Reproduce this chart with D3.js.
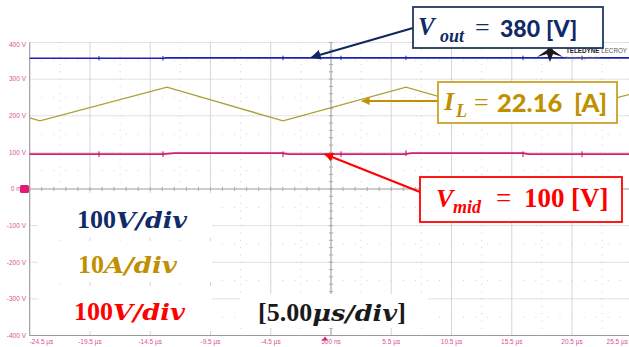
<!DOCTYPE html>
<html>
<head>
<meta charset="utf-8">
<script src="https://cdn.jsdelivr.net/npm/d3@7"></script>
<style>
  body { margin: 0; background: #fff; }
  svg { display: block; }
</style>
</head>
<body>
<div id="chart"></div>
<script>
// tick labels
const timeTicks = [-24.5, -19.5, -14.5, -9.5, -4.5, 0.5, 5.5, 10.5, 15.5, 20.5, 25.5];
const timeLabels = ['-24.5 µs', '-19.5 µs', '-14.5 µs', '-9.5 µs', '-4.5 µs', '500 ns', '5.5 µs', '10.5 µs', '15.5 µs', '20.5 µs', '25.5 µs'];
const voltTicks = [400, 300, 200, 100, 0, -100, -200, -300, -400];
const voltLabels = ['400 V', '300 V', '200 V', '100 V', '0 mV', '-100 V', '-200 V', '-300 V', '-400 V'];

// traces: [time µs, screen value]
const vout = [[-24.5, 357], [-13.4, 357], [-13.2, 358], [25.5, 358]];
const iL = [[-24.5, 194], [-23.65, 186], [-13.11, 278], [-3.48, 186], [6.72, 278], [16.51, 186], [25.5, 260]];
const vmid = [[-24.5, 95], [-13.4, 95], [-12.5, 98], [-3.6, 98], [-3.0, 95], [6.6, 95], [7.2, 98], [16.4, 98], [16.9, 95], [25.5, 95]];
const glitchTimes = [-18.75, -13.44, -3.48, 1.33, 6.72, 16.43, 21.33];

const width = 629, height = 347;

const svg = d3.select('#chart')
  .append('svg')
  .attr('width', width)
  .attr('height', height)
  .style('font-family', 'Liberation Sans, Arial, sans-serif');

const x = d3.scaleLinear().domain([-24.5, 25.5]).range([29.7, 632.3]);
const y = d3.scaleLinear().domain([-400, 400]).range([335.5, 42.5]);

const grid = svg.append('g');

// major vertical grid
grid.selectAll('.vgrid').data(timeTicks).enter().append('line')
  .attr('x1', d => x(d)).attr('x2', d => x(d))
  .attr('y1', y(400)).attr('y2', y(-400))
  .attr('stroke', '#d6d6d6').attr('stroke-width', 1);

// major horizontal grid (dotted)
grid.selectAll('.hgrid').data(voltTicks).enter().append('line')
  .attr('x1', x(-24.5)).attr('x2', x(25.5))
  .attr('y1', d => y(d)).attr('y2', d => y(d))
  .attr('stroke', '#c2c2c2').attr('stroke-width', 1)
  .attr('stroke-dasharray', '1,1');

// half division dots
const halfV = d3.range(-350, 400, 100);
const halfT = d3.range(-22, 25.5, 5);
halfV.forEach(v => {
  grid.selectAll(null).data(d3.range(-24.5, 25.6, 1)).enter().append('rect')
    .attr('x', d => x(d) - 0.5).attr('y', y(v) - 0.5)
    .attr('width', 1).attr('height', 1).attr('fill', '#cfcfcf');
});
halfT.forEach(t => {
  grid.selectAll(null).data(d3.range(-400, 401, 20)).enter().append('rect')
    .attr('x', x(t) - 0.5).attr('y', d => y(d) - 0.5)
    .attr('width', 1).attr('height', 1).attr('fill', '#cfcfcf');
});

// centre cross with minor ticks
grid.append('line')
  .attr('x1', x(-24.5)).attr('x2', x(25.5)).attr('y1', y(0)).attr('y2', y(0))
  .attr('stroke', '#aaaaaa');
grid.append('line')
  .attr('x1', x(0.5)).attr('x2', x(0.5)).attr('y1', y(400)).attr('y2', y(-400))
  .attr('stroke', '#aaaaaa');
grid.selectAll(null).data(d3.range(-24.5, 25.6, 1)).enter().append('line')
  .attr('x1', d => x(d)).attr('x2', d => x(d))
  .attr('y1', y(0) - 2).attr('y2', y(0) + 2)
  .attr('stroke', '#aaaaaa');
grid.selectAll(null).data(d3.range(-400, 401, 20)).enter().append('line')
  .attr('x1', x(0.5) - 2).attr('x2', x(0.5) + 2)
  .attr('y1', d => y(d)).attr('y2', d => y(d))
  .attr('stroke', '#aaaaaa');

// frame
grid.append('line')
  .attr('x1', x(-24.5)).attr('x2', x(-24.5)).attr('y1', y(400)).attr('y2', y(-400))
  .attr('stroke', '#9a9a9a');
grid.append('line')
  .attr('x1', x(-24.5)).attr('x2', x(25.5)).attr('y1', y(-400)).attr('y2', y(-400))
  .attr('stroke', '#9a9a9a');

// axis labels
svg.append('g').selectAll('text').data(voltTicks).enter().append('text')
  .attr('x', 26)
  .attr('y', d => Math.max(y(d), 45) + 2.3)
  .attr('text-anchor', 'end')
  .attr('font-size', 6.5)
  .attr('fill', '#d9519a')
  .text((d, i) => voltLabels[i]);

svg.append('g').selectAll('text').data(timeTicks).enter().append('text')
  .attr('x', (d, i) => i === timeTicks.length - 1 ? 628 : x(d))
  .attr('y', 344)
  .attr('text-anchor', (d, i) => i === 0 ? 'start' : (i === timeTicks.length - 1 ? 'end' : 'middle'))
  .attr('font-size', 6.5)
  .attr('fill', '#d9519a')
  .text((d, i) => timeLabels[i]);

// channel ground marker and trigger marker
svg.append('rect')
  .attr('x', 20).attr('y', y(0) - 4).attr('width', 9).attr('height', 8)
  .attr('rx', 1.5).attr('fill', '#e0187a');
svg.append('path')
  .attr('d', `M${x(0) - 3},${y(-400) + 5} l3,-4 l3,4 z`)
  .attr('fill', '#e0187a');

// traces
const line = d3.line().x(d => x(d[0])).y(d => y(d[1]));

svg.append('path').datum(iL)
  .attr('d', line).attr('fill', 'none')
  .attr('stroke', '#aaa136').attr('stroke-width', 1.4);

svg.append('path').datum(vout)
  .attr('d', line).attr('fill', 'none')
  .attr('stroke', '#1f22b0').attr('stroke-width', 1.7);

svg.append('path').datum(vmid)
  .attr('d', line).attr('fill', 'none')
  .attr('stroke', '#d4206f').attr('stroke-width', 1.8);

// switching glitches
const levelAt = (series, t) => {
  const i = d3.bisector(d => d[0]).left(series, t);
  return series[Math.max(0, Math.min(series.length - 1, i))][1];
};
[[vout, '#1f22b0', 6], [vmid, '#b81662', 8]].forEach(([series, col, h]) => {
  svg.append('g').selectAll('line').data(glitchTimes).enter().append('line')
    .attr('x1', d => x(d)).attr('x2', d => x(d))
    .attr('y1', d => y(levelAt(series, d) + h))
    .attr('y2', d => y(levelAt(series, d) - h))
    .attr('stroke', col).attr('stroke-width', 1);
});

// white backing boxes for the scale notes
const notes = svg.append('g');
[[38, 193, 174, 45], [38, 241, 174, 41], [38, 286, 174, 45], [240, 294, 188, 34]].forEach(b => {
  notes.append('rect')
    .attr('x', b[0]).attr('y', b[1]).attr('width', b[2]).attr('height', b[3])
    .attr('fill', '#fff');
});

function richText(g, parts, color) {
  const t = g.append('text').attr('fill', color);
  parts.forEach(p => {
    t.append('tspan')
      .attr('x', p.x).attr('y', p.y)
      .attr('font-family', p.serif ? 'Liberation Serif, serif' : 'Lato, sans-serif')
      .attr('font-style', p.italic ? 'italic' : 'normal')
      .attr('font-weight', p.bold === false ? 'normal' : (p.serif ? 'bold' : 900))
      .attr('font-size', p.size)
      .text(p.t);
  });
  return t;
}

// upright part in Liberation Serif, math italic part in the wider DejaVu Serif
function scaleNote(str1, str2, x0, base, len2, color) {
  const t = notes.append('text')
    .attr('y', base)
    .attr('fill', color)
    .attr('font-weight', 'bold');
  t.append('tspan').attr('x', x0)
    .attr('font-family', 'Liberation Serif, serif').attr('font-size', 26)
    .text(str1);
  t.append('tspan')
    .attr('font-family', 'DejaVu Serif, serif').attr('font-size', 22.5)
    .attr('font-style', 'italic')
    .attr('textLength', len2).attr('lengthAdjust', 'spacingAndGlyphs').text(str2);
}
scaleNote('100', 'V/div', 77, 228, 71, '#102b6a');
scaleNote('10', 'A/div', 78, 273, 73, '#c09000');
scaleNote('100', 'V/div', 74, 320, 72, '#ff0000');

const sc = notes.append('text')
  .attr('y', 321)
  .attr('fill', '#1a1a1a')
  .attr('font-weight', 'bold');
sc.append('tspan').attr('x', 258)
  .attr('font-family', 'Liberation Serif, serif').attr('font-size', 26)
  .text('[5.00');
sc.append('tspan')
  .attr('font-family', 'DejaVu Serif, serif').attr('font-size', 22.5)
  .attr('font-style', 'italic')
  .attr('textLength', 85).attr('lengthAdjust', 'spacingAndGlyphs').text('μs/div');
sc.append('tspan')
  .attr('font-family', 'Liberation Serif, serif').attr('font-size', 26)
  .text(']');

// Teledyne LeCroy logo
const logo = svg.append('g');
logo.append('path')
  .attr('d', 'M537,57 L547,50 L550,44 L553,50 L563,57 L553,54 L550,62 L547,54 Z')
  .attr('fill', '#1a1a1a');
logo.append('text').attr('x', 566).attr('y', 53)
  .attr('font-size', 6.3).attr('font-weight', 'bold').attr('fill', '#1a1a1a')
  .attr('textLength', 61).attr('lengthAdjust', 'spacingAndGlyphs')
  .text('TELEDYNE')
  .append('tspan').attr('font-weight', 'normal').attr('fill', '#555').text(' LECROY');
logo.append('text').attr('x', 566).attr('y', 59)
  .attr('font-size', 3.5).attr('fill', '#888').text('Everywhereyoulook™');

// callouts
const defs = svg.append('defs');
function arrowMarker(id, col) {
  defs.append('marker')
    .attr('id', id).attr('viewBox', '0 0 10 10')
    .attr('refX', 9).attr('refY', 5)
    .attr('markerWidth', 4.5).attr('markerHeight', 4.5)
    .attr('orient', 'auto')
    .append('path').attr('d', 'M0,0 L10,5 L0,10 z').attr('fill', col);
}
arrowMarker('aNavy', '#10285f');
arrowMarker('aGold', '#bf9000');
arrowMarker('aRed', '#ff0000');

const call = svg.append('g');

// Vout
call.append('line')
  .attr('x1', 413).attr('y1', 28).attr('x2', x(-1.1)).attr('y2', y(357) - 1)
  .attr('stroke', '#10285f').attr('stroke-width', 2.2)
  .attr('marker-end', 'url(#aNavy)');
call.append('rect')
  .attr('x', 413).attr('y', 7).attr('width', 190).attr('height', 41)
  .attr('fill', '#fff').attr('stroke', '#1f3864').attr('stroke-width', 1.8);
richText(call, [
  { t: 'V', x: 418, y: 35, size: 25, serif: true, italic: true },
  { t: 'out', x: 440, y: 42, size: 18, serif: true, italic: true },
  { t: '=', x: 475, y: 36, size: 26, serif: true, bold: false },
  { t: '380', x: 500, y: 37, size: 23 },
  { t: '[V]', x: 546, y: 37, size: 23 }
], '#0f2a66');

// IL
call.append('line')
  .attr('x1', 438).attr('y1', 101).attr('x2', x(3.1)).attr('y2', 101)
  .attr('stroke', '#bf9000').attr('stroke-width', 1.8)
  .attr('marker-end', 'url(#aGold)');
call.append('rect')
  .attr('x', 438).attr('y', 82).attr('width', 179).attr('height', 41)
  .attr('fill', '#fff').attr('stroke', '#c9a227').attr('stroke-width', 1.8);
richText(call, [
  { t: 'I', x: 444, y: 110, size: 26, serif: true, italic: true },
  { t: 'L', x: 456, y: 117, size: 18, serif: true, italic: true },
  { t: '=', x: 474, y: 111, size: 26, serif: true, bold: false },
  { t: '22.16', x: 497, y: 112, size: 25.5 },
  { t: '[A]', x: 574, y: 112, size: 25.5 }
], '#bf9000');

// Vmid
call.append('line')
  .attr('x1', 420).attr('y1', 192).attr('x2', x(0)).attr('y2', y(95))
  .attr('stroke', '#ff0000').attr('stroke-width', 2)
  .attr('marker-end', 'url(#aRed)');
call.append('rect')
  .attr('x', 420).attr('y', 177).attr('width', 202).attr('height', 45)
  .attr('fill', '#fff').attr('stroke', '#ff0000').attr('stroke-width', 1.8);
richText(call, [
  { t: 'V', x: 436, y: 207, size: 26, serif: true, italic: true },
  { t: 'mid', x: 453, y: 213, size: 18, serif: true, italic: true },
  { t: '=', x: 496, y: 207, size: 27, serif: true, bold: false },
  { t: '100', x: 524, y: 207, size: 27, serif: true },
  { t: '[V]', x: 571, y: 207, size: 27, serif: true }
], '#ff0000');
</script>
</body>
</html>
